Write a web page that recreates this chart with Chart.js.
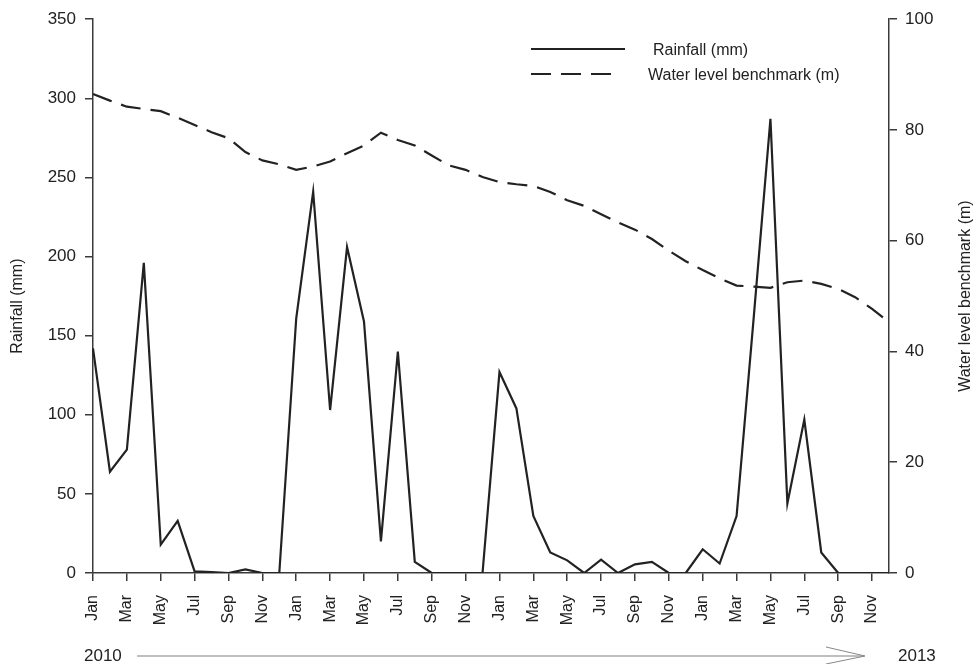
<!DOCTYPE html>
<html lang="en">
<head>
    <meta charset="UTF-8">
    <title>Rainfall and water level benchmark</title>
    <script src="https://cdn.jsdelivr.net/npm/chart.js"></script>
    <style>
        html, body {
            margin: 0;
            padding: 0;
            background-color: #fff;
        }
        #wrap {
            position: relative;
            width: 979px;
            height: 664px;
        }
    </style>
</head>
<body>
    <div id="wrap">
        <canvas id="chart"></canvas>
    </div>

    <script>
        // Data (monthly, Jan 2010 - Dec 2013)
        const years = [2010, 2011, 2012, 2013];
        const monthNames = ['Jan', 'Feb', 'Mar', 'Apr', 'May', 'Jun', 'Jul', 'Aug', 'Sep', 'Oct', 'Nov', 'Dec'];

        const rainfall = [
            142, 64, 78, 196, 18, 33, 1, 0.5, 0, 2.3, 0, 0,
            161, 241, 103, 206, 159, 20, 140, 7, 0, 0, 0, 0,
            127, 104, 36, 13, 8, 0, 8.5, 0, 5.5, 7, 0, 0,
            15, 6, 36, 160, 287, 44, 97, 13, 0, 0, 0, 0
        ];

        const waterLevel = [
            86.5, 85.3, 84.2, 83.8, 83.4, 82.2, 80.9, 79.6, 78.5, 76.0, 74.5, 73.8,
            72.8, 73.4, 74.3, 75.8, 77.2, 79.5, 78.2, 77.2, 75.4, 73.6, 72.8, 71.5,
            70.6, 70.2, 69.9, 68.8, 67.3, 66.3, 64.8, 63.3, 62.0, 60.3, 58.2, 56.3,
            54.7, 53.2, 51.9, 51.7, 51.5, 52.5, 52.8, 52.2, 51.3, 49.8, 47.7, 45.3
        ];

        const rainTicks = { min: 0, max: 350, step: 50 };
        const levelTicks = { min: 0, max: 100, step: 20 };

        const leftTitle = 'Rainfall (mm)';
        const rightTitle = 'Water level benchmark (m)';
        const startYear = '2010';
        const endYear = '2013';

        // month labels for the category axis
        const labels = [];
        years.forEach(y => monthNames.forEach(m => labels.push(m)));

        const FONT = '"Liberation Sans", Arial, sans-serif';
        const INK = '#222';
        const AXIS = '#3a3a3a';

        // titles, legend and the year arrow under the axis
        const extras = {
            id: 'extras',
            afterDraw(chart) {
                const ctx = chart.ctx;
                const area = chart.chartArea;
                const midY = (area.top + area.bottom) / 2;
                ctx.save();
                ctx.fillStyle = INK;
                ctx.font = '16px ' + FONT;
                ctx.textAlign = 'center';
                ctx.textBaseline = 'middle';

                // axis titles, both read bottom to top
                ctx.save();
                ctx.translate(18, midY + 10);
                ctx.rotate(-Math.PI / 2);
                ctx.fillText(leftTitle, 0, 0);
                ctx.restore();

                ctx.save();
                ctx.translate(966, midY);
                ctx.rotate(-Math.PI / 2);
                ctx.fillText(rightTitle, 0, 0);
                ctx.restore();

                // legend in the upper right
                const ds = chart.data.datasets;
                const rows = [
                    { y: 49, x0: 531, x1: 625, tx: 653, dash: [] },
                    { y: 74, x0: 531, x1: 617, tx: 648, dash: [20, 10] }
                ];
                ctx.textAlign = 'left';
                rows.forEach((r, i) => {
                    ctx.beginPath();
                    ctx.setLineDash(r.dash);
                    ctx.lineWidth = 2;
                    ctx.strokeStyle = INK;
                    ctx.moveTo(r.x0, r.y);
                    ctx.lineTo(r.x1, r.y);
                    ctx.stroke();
                    ctx.fillText(ds[i].label, r.tx, r.y + 2);
                });
                ctx.setLineDash([]);

                // 2010 ----> 2013
                const ay = 656;
                ctx.font = '17px ' + FONT;
                ctx.fillText(startYear, 84, ay);
                ctx.fillText(endYear, 898, ay);
                ctx.strokeStyle = '#aaa';
                ctx.lineWidth = 1.6;
                ctx.beginPath();
                ctx.moveTo(137, ay);
                ctx.lineTo(864, ay);
                ctx.stroke();
                ctx.strokeStyle = '#888';
                ctx.lineWidth = 1;
                ctx.beginPath();
                ctx.moveTo(826, ay - 9);
                ctx.lineTo(865, ay);
                ctx.lineTo(826, ay + 8);
                ctx.stroke();
                ctx.restore();
            }
        };

        const ctx = document.getElementById('chart').getContext('2d');
        const chart = new Chart(ctx, {
            type: 'line',
            data: {
                labels: labels,
                datasets: [{
                    label: 'Rainfall (mm)',
                    data: rainfall,
                    yAxisID: 'yRain',
                    borderColor: INK,
                    borderWidth: 2.2,
                    pointRadius: 0,
                    tension: 0,
                    fill: false
                }, {
                    label: 'Water level benchmark (m)',
                    data: waterLevel,
                    yAxisID: 'yLevel',
                    borderColor: INK,
                    borderWidth: 2.2,
                    borderDash: [20, 10],
                    pointRadius: 0,
                    tension: 0,
                    fill: false
                }]
            },
            options: {
                responsive: true,
                maintainAspectRatio: false,
                animation: false,
                layout: {
                    padding: { top: 9, left: 0, right: 0, bottom: 0 }
                },
                plugins: {
                    legend: { display: false },
                    tooltip: { enabled: false }
                },
                scales: {
                    x: {
                        type: 'category',
                        offset: false,
                        border: { display: true, color: AXIS, width: 1.5 },
                        grid: {
                            display: true,
                            drawOnChartArea: false,
                            drawTicks: true,
                            tickLength: 8,
                            color: AXIS,
                            lineWidth: 1.5
                        },
                        ticks: {
                            autoSkip: false,
                            maxRotation: 90,
                            minRotation: 90,
                            padding: 14,
                            color: INK,
                            font: { family: FONT, size: 16 },
                            callback: function (value, index) {
                                return index % 2 === 0 ? this.getLabelForValue(value) : null;
                            }
                        },
                        afterFit: scale => { scale.height = 91; }
                    },
                    yRain: {
                        position: 'left',
                        min: rainTicks.min,
                        max: rainTicks.max,
                        border: { display: true, color: AXIS, width: 1.5 },
                        grid: {
                            drawOnChartArea: false,
                            tickLength: 8,
                            color: AXIS,
                            lineWidth: 1.5
                        },
                        ticks: {
                            stepSize: rainTicks.step,
                            padding: 9,
                            color: INK,
                            font: { family: FONT, size: 17 }
                        },
                        afterFit: scale => { scale.width = 93; }
                    },
                    yLevel: {
                        position: 'right',
                        min: levelTicks.min,
                        max: levelTicks.max,
                        border: { display: true, color: AXIS, width: 1.5 },
                        grid: {
                            drawOnChartArea: false,
                            tickLength: 8,
                            color: AXIS,
                            lineWidth: 1.5
                        },
                        ticks: {
                            stepSize: levelTicks.step,
                            padding: 8,
                            color: INK,
                            font: { family: FONT, size: 17 }
                        },
                        afterFit: scale => { scale.width = 90; }
                    }
                }
            },
            plugins: [extras]
        });
    </script>
</body>
</html>
